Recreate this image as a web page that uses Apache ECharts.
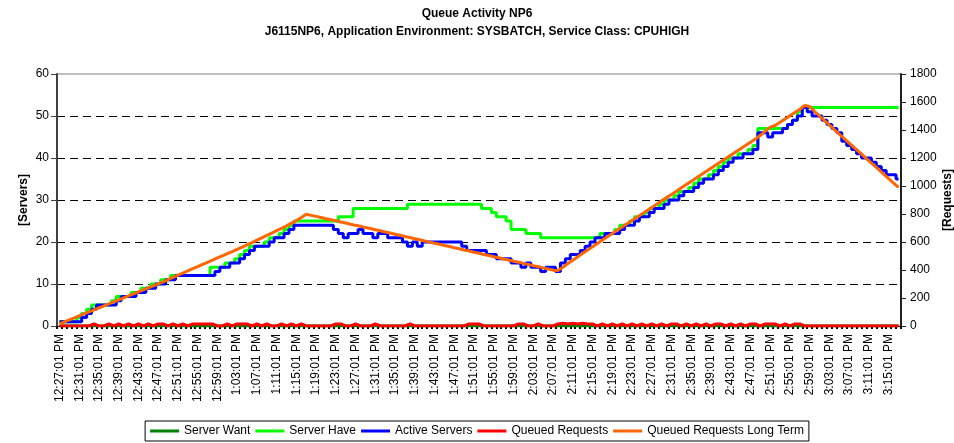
<!DOCTYPE html>
<html>
<head>
<meta charset="utf-8">
<script src="https://cdn.jsdelivr.net/npm/echarts@6/dist/echarts.min.js"></script>
<style>
html,body{margin:0;padding:0;background:#fff;}
#c{width:954px;height:443px;}
</style>
</head>
<body>
<div id="c"></div>
<script>
var categories = [
"12:27:01 PM","12:28:01 PM","12:29:01 PM","12:30:01 PM","12:31:01 PM","12:32:01 PM","12:33:01 PM","12:34:01 PM","12:35:01 PM","12:36:01 PM",
"12:37:01 PM","12:38:01 PM","12:39:01 PM","12:40:01 PM","12:41:01 PM","12:42:01 PM","12:43:01 PM","12:44:01 PM","12:45:01 PM","12:46:01 PM",
"12:47:01 PM","12:48:01 PM","12:49:01 PM","12:50:01 PM","12:51:01 PM","12:52:01 PM","12:53:01 PM","12:54:01 PM","12:55:01 PM","12:56:01 PM",
"12:57:01 PM","12:58:01 PM","12:59:01 PM","1:00:01 PM","1:01:01 PM","1:02:01 PM","1:03:01 PM","1:04:01 PM","1:05:01 PM","1:06:01 PM",
"1:07:01 PM","1:08:01 PM","1:09:01 PM","1:10:01 PM","1:11:01 PM","1:12:01 PM","1:13:01 PM","1:14:01 PM","1:15:01 PM","1:16:01 PM",
"1:17:01 PM","1:18:01 PM","1:19:01 PM","1:20:01 PM","1:21:01 PM","1:22:01 PM","1:23:01 PM","1:24:01 PM","1:25:01 PM","1:26:01 PM",
"1:27:01 PM","1:28:01 PM","1:29:01 PM","1:30:01 PM","1:31:01 PM","1:32:01 PM","1:33:01 PM","1:34:01 PM","1:35:01 PM","1:36:01 PM",
"1:37:01 PM","1:38:01 PM","1:39:01 PM","1:40:01 PM","1:41:01 PM","1:42:01 PM","1:43:01 PM","1:44:01 PM","1:45:01 PM","1:46:01 PM",
"1:47:01 PM","1:48:01 PM","1:49:01 PM","1:50:01 PM","1:51:01 PM","1:52:01 PM","1:53:01 PM","1:54:01 PM","1:55:01 PM","1:56:01 PM",
"1:57:01 PM","1:58:01 PM","1:59:01 PM","2:00:01 PM","2:01:01 PM","2:02:01 PM","2:03:01 PM","2:04:01 PM","2:05:01 PM","2:06:01 PM",
"2:07:01 PM","2:08:01 PM","2:09:01 PM","2:10:01 PM","2:11:01 PM","2:12:01 PM","2:13:01 PM","2:14:01 PM","2:15:01 PM","2:16:01 PM",
"2:17:01 PM","2:18:01 PM","2:19:01 PM","2:20:01 PM","2:21:01 PM","2:22:01 PM","2:23:01 PM","2:24:01 PM","2:25:01 PM","2:26:01 PM",
"2:27:01 PM","2:28:01 PM","2:29:01 PM","2:30:01 PM","2:31:01 PM","2:32:01 PM","2:33:01 PM","2:34:01 PM","2:35:01 PM","2:36:01 PM",
"2:37:01 PM","2:38:01 PM","2:39:01 PM","2:40:01 PM","2:41:01 PM","2:42:01 PM","2:43:01 PM","2:44:01 PM","2:45:01 PM","2:46:01 PM",
"2:47:01 PM","2:48:01 PM","2:49:01 PM","2:50:01 PM","2:51:01 PM","2:52:01 PM","2:53:01 PM","2:54:01 PM","2:55:01 PM","2:56:01 PM",
"2:57:01 PM","2:58:01 PM","2:59:01 PM","3:00:01 PM","3:01:01 PM","3:02:01 PM","3:03:01 PM","3:04:01 PM","3:05:01 PM","3:06:01 PM",
"3:07:01 PM","3:08:01 PM","3:09:01 PM","3:10:01 PM","3:11:01 PM","3:12:01 PM","3:13:01 PM","3:14:01 PM","3:15:01 PM","3:16:01 PM",
"3:17:01 PM"
];

var serverWant = [
0,0,0,0,0,0,0,0,0,0, 0,0,0,0,0,0,0,0,0,0, 0,0,0,0,0,0,0,0,0,0, 0,0,0,0,0,0,0,0,0,0,
0,0,0,0,0,0,0,0,0,0, 0,0,0,0,0,0,0,0,0,0, 0,0,0,0,0,0,0,0,0,0, 0,0,0,0,0,0,0,0,0,0,
0,0,0,0,0,0,0,0,0,0, 0,0,0,0,0,0,0,0,0,0, 0,0,0,0,0,0,0,0,0,0, 0,0,0,0,0,0,0,0,0,0,
0,0,0,0,0,0,0,0,0,0, 0,0,0,0,0,0,0,0,0,0, 0,0,0,0,0,0,0,0,0,0, 0,0,0,0,0,0,0,0,0,0,
0,0,0,0,0,0,0,0,0,0, 0
];

var serverHave = [
1,1,1,1,2,3,4,5,5,5,
5,6,7,7,7,8,8,9,9,10,
10,11,11,12,12,12,12,12,12,12,
12,14,14,14,15,15,16,17,18,19,
19,19,20,21,21,22,23,24,25,25,
25,25,25,25,25,25,25,26,26,26,
28,28,28,28,28,28,28,28,28,28,
28,29,29,29,29,29,29,29,29,29,
29,29,29,29,29,29,28,28,27,26,
26,25,23,23,23,22,22,22,21,21,
21,21,21,21,21,21,21,21,21,21,
22,22,22,23,24,24,25,26,26,27,
28,28,29,30,30,31,32,32,33,34,
35,35,36,37,38,39,40,40,41,41,
42,43,47,47,47,47,47,47,48,49,
51,52,52,52,52,52,52,52,52,52,
52,52,52,52,52,52,52,52,52,52,
52
];

var activeServers = [
1,1,1,1,1,2,3,4,5,5,
5,5,6,7,7,7,8,8,9,9,
10,10,11,11,12,12,12,12,12,12,
12,12,13,14,14,15,15,16,17,18,
19,19,19,20,21,21,22,23,24,24,
24,24,24,24,24,24,23,22,21,22,
22,23,22,22,21,22,22,21,21,21,
20,19,20,19,20,20,20,20,20,20,
20,20,19,18,18,18,18,17,17,16,
16,16,15,15,14,15,14,14,13,14,
14,13,15,16,17,17,18,19,20,21,
21,22,22,22,23,24,24,25,26,26,
27,28,28,29,30,30,31,32,32,33,
34,35,35,36,37,38,39,40,40,41,
41,42,46,46,45,46,46,47,48,49,
50,52,51,50,50,49,48,47,46,44,
43,42,41,40,40,39,38,37,36,36,
35
];

var queuedRequests = [
0,0,0,0,0,0,0,15,0,0,
15,0,15,0,15,0,15,0,15,0,
15,15,0,15,0,15,0,15,15,15,
15,15,0,0,15,0,15,15,15,0,
15,0,15,0,0,15,0,15,0,15,
0,0,0,0,0,0,15,15,0,0,
15,0,0,0,15,0,0,0,0,0,
0,15,0,0,0,0,0,0,0,0,
0,0,0,15,15,15,0,0,0,0,
0,0,0,15,15,0,0,15,0,0,
0,15,20,15,20,15,20,15,15,0,
15,0,15,0,15,0,15,0,15,0,
15,0,15,0,15,15,0,15,0,15,
0,15,0,15,15,0,15,0,15,0,
15,15,0,15,15,15,0,15,0,15,
15,0,0,0,0,0,0,0,0,0,
0,0,0,0,0,0,0,0,0,0,
0
];

var queuedLongTerm = [
15,29,44,58,73,87,101,115,130,144,
158,172,187,201,215,229,244,258,272,287,
301,316,332,347,363,378,393,409,424,440,
455,470,486,501,517,532,548,564,580,596,
613,630,647,664,681,698,715,735,753,775,
798,790,783,775,766,759,752,743,736,727,
719,712,703,696,687,680,671,664,655,648,
639,632,623,616,607,599,591,584,575,568,
559,552,543,536,527,520,511,503,495,487,
479,471,463,456,447,440,431,424,415,407,
399,397,420,446,470,495,519,542,566,590,
614,637,660,684,707,731,754,777,800,824,
847,870,894,917,940,963,987,1010,1033,1057,
1080,1103,1127,1150,1173,1196,1220,1243,1266,1290,
1313,1336,1362,1392,1420,1432,1455,1478,1502,1525,
1548,1575,1568,1532,1500,1467,1435,1402,1370,1338,
1306,1275,1243,1212,1180,1149,1117,1085,1053,1021,
990
];

var titleText = "Queue Activity NP6";
var subtitleText = "J6115NP6, Application Environment: SYSBATCH, Service Class: CPUHIGH";
var seriesNames = ["Server Want","Server Have","Active Servers","Queued Requests","Queued Requests Long Term"];
var seriesColors = ["#008000","#00FF00","#0000FF","#FF0000","#FF6600"];

var FONT = 'Arial, "Liberation Sans", sans-serif';
var chart = echarts.init(document.getElementById('c'), null, {renderer:'canvas'});

function lineSeries(idx, data, axis, step) {
  var s = {
    name: seriesNames[idx], type: 'line', data: data, yAxisIndex: axis,
    symbol: 'none', showSymbol: false, animation: false,
    lineStyle: {color: seriesColors[idx], width: 3},
    itemStyle: {color: seriesColors[idx]},
    emphasis: {disabled: true}
  };
  if (step) s.step = step;
  return s;
}

var option = {
  animation: false,
  backgroundColor: '#ffffff',
  title: [
    {text: titleText, left: 'center', top: 3, textStyle: {fontSize: 12, fontWeight: 'bold', color: '#000', fontFamily: FONT}},
    {text: subtitleText, left: 'center', top: 21, textStyle: {fontSize: 12, fontWeight: 'bold', color: '#000', fontFamily: FONT}}
  ],
  legend: {
    data: seriesNames, bottom: 2, left: 'center', icon: 'rect',
    itemWidth: 29, itemHeight: 3, itemGap: 5, padding: [4, 5],
    borderColor: '#000', borderWidth: 1,
    textStyle: {fontSize: 12, color: '#000', fontFamily: FONT}
  },
  grid: {left: 57, right: 53, top: 74, bottom: 117, show: true, borderColor: '#808080', borderWidth: 1,
         containLabel: false, outerBoundsMode: 'none'},
  xAxis: {
    type: 'category', data: categories, boundaryGap: true,
    axisLine: {show: true, lineStyle: {color: '#000', width: 1}},
    axisTick: {show: true, interval: 0, length: 3, lineStyle: {color: '#000', width: 2}},
    axisLabel: {interval: 3, rotate: 90, fontSize: 12, color: '#000', margin: 8, fontFamily: FONT},
    splitLine: {show: false}
  },
  yAxis: [
    {
      type: 'value', min: 0, max: 60, interval: 10, position: 'left',
      name: '[Servers]', nameLocation: 'middle', nameRotate: 90, nameGap: 27, nameMoveOverlap: false,
      nameTextStyle: {fontSize: 12, fontWeight: 'bold', color: '#000', fontFamily: FONT},
      axisLine: {show: true, lineStyle: {color: '#404040', width: 2}},
      axisTick: {show: true, length: 6, lineStyle: {color: '#404040', width: 1}},
      axisLabel: {fontSize: 12, color: '#000', margin: 8, fontFamily: FONT},
      splitLine: {show: true, showMinLine: false, showMaxLine: false, lineStyle: {color: '#000', width: 1, type: [8, 5]}}
    },
    {
      type: 'value', min: 0, max: 1800, interval: 200, position: 'right',
      name: '[Requests]', nameLocation: 'middle', nameRotate: 90, nameGap: 41, nameMoveOverlap: false,
      nameTextStyle: {fontSize: 12, fontWeight: 'bold', color: '#000', fontFamily: FONT},
      axisLine: {show: true, lineStyle: {color: '#202020', width: 2}},
      axisTick: {show: true, length: 5, lineStyle: {color: '#202020', width: 1}},
      axisLabel: {fontSize: 12, color: '#000', margin: 9, fontFamily: FONT, formatter: function (v) { return String(v); }},
      splitLine: {show: false}
    }
  ],
  series: [
    lineSeries(0, serverWant, 0),
    lineSeries(1, serverHave, 0, 'middle'),
    lineSeries(2, activeServers, 0, 'middle'),
    lineSeries(3, queuedRequests, 1),
    lineSeries(4, queuedLongTerm, 1)
  ]
};
chart.setOption(option);
</script>
</body>
</html>
